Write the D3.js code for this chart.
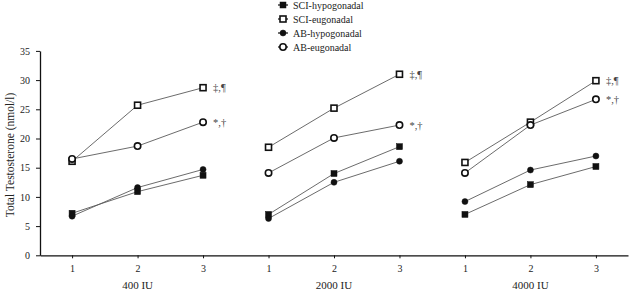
<!DOCTYPE html>
<html>
<head>
<meta charset="utf-8">
<script src="https://cdnjs.cloudflare.com/ajax/libs/d3/7.8.5/d3.min.js"></script>
<style>
  body { margin: 0; background: #fff; }
  text { font-family: "Liberation Serif", "DejaVu Serif", serif; fill: #222; }
</style>
</head>
<body>
<div id="chart"></div>
<script>
// doses and visits on the x axis
const doses = ["400 IU", "2000 IU", "4000 IU"];
const visits = ["1", "2", "3"];
const yTicks = [0, 5, 10, 15, 20, 25, 30, 35];

// values per dose, 3 visits each (nmol/l)
const sciHypo = [[7.2, 10.9, 13.7], [7.0, 14.0, 18.6], [7.0, 12.1, 15.2]];
const sciEu   = [[16.1, 25.7, 28.7], [18.5, 25.2, 31.0], [15.9, 22.8, 29.9]];
const abHypo  = [[6.7, 11.6, 14.7], [6.3, 12.5, 16.1], [9.2, 14.6, 17.0]];
const abEu    = [[16.5, 18.7, 22.8], [14.1, 20.1, 22.3], [14.1, 22.3, 26.7]];

const seriesNames = ["SCI-hypogonadal", "SCI-eugonadal", "AB-hypogonadal", "AB-eugonadal"];
const annotations = { "SCI-eugonadal": "\u2021,\u00b6", "AB-eugonadal": "*,\u2020" };

window.onload = function () {
  const W = 631, H = 290;
  const svg = d3.select("#chart").append("svg")
    .attr("width", W).attr("height", H);

  const keys = [];
  doses.forEach((d, i) => visits.forEach(v => keys.push(i + "-" + v)));

  const x = d3.scalePoint().domain(keys).range([40, 628]).padding(0.49);
  const y = d3.scaleLinear().domain([0, 35]).range([255.3, 50.9]);

  const series = [
    { name: seriesNames[0], vals: sciHypo, shape: "square", filled: true },
    { name: seriesNames[1], vals: sciEu, shape: "square", filled: false },
    { name: seriesNames[2], vals: abHypo, shape: "circle", filled: true },
    { name: seriesNames[3], vals: abEu, shape: "circle", filled: false }
  ];

  // axes
  const yAxis = svg.append("g")
    .attr("transform", "translate(40,0)")
    .call(d3.axisLeft(y).tickValues(yTicks).tickSize(4).tickSizeOuter(0));
  const xAxis = svg.append("g")
    .attr("transform", "translate(0,255.3)")
    .call(d3.axisBottom(x).tickSize(3).tickSizeOuter(0)
      .tickFormat(k => k.split("-")[1]));
  [yAxis, xAxis].forEach(a => {
    a.select(".domain").attr("stroke", "#111").attr("stroke-width", 1.3);
    a.selectAll(".tick line").attr("stroke", "#111");
    a.selectAll("text").style("font-family", "Liberation Serif, serif")
      .attr("font-size", 10).attr("fill", "#222");
  });
  yAxis.selectAll("text").attr("x", -10);
  xAxis.selectAll("text").attr("y", 10);

  // dose labels under middle tick
  doses.forEach((d, i) => {
    svg.append("text")
      .attr("x", x(i + "-2")).attr("y", 289)
      .attr("text-anchor", "middle").attr("font-size", 11)
      .text(d);
  });

  svg.append("text")
    .attr("transform", "translate(14,155) rotate(-90)")
    .attr("text-anchor", "middle").attr("font-size", 11.5)
    .text("Total Testosterone (nmol/l)");

  const line = d3.line().x(d => d[0]).y(d => d[1]);

  function marker(g, s, cx, cy) {
    if (s.shape === "square") {
      g.append("rect")
        .attr("x", cx - 3).attr("y", cy - 3).attr("width", 6).attr("height", 6)
        .attr("fill", s.filled ? "#111" : "#fff")
        .attr("stroke", "#111").attr("stroke-width", s.filled ? 0.5 : 1.6);
    } else {
      g.append("circle")
        .attr("cx", cx).attr("cy", cy).attr("r", s.filled ? 3 : 3.2)
        .attr("fill", s.filled ? "#111" : "#fff")
        .attr("stroke", "#111").attr("stroke-width", s.filled ? 0.5 : 1.6);
    }
  }

  // lines first, then markers on top
  series.forEach(s => {
    s.vals.forEach((vals, di) => {
      const pts = vals.map((v, vi) => [x(di + "-" + visits[vi]), y(v)]);
      svg.append("path").attr("d", line(pts))
        .attr("fill", "none").attr("stroke", "#5a5a5a").attr("stroke-width", 0.9);
    });
  });
  series.forEach(s => {
    const g = svg.append("g");
    s.vals.forEach((vals, di) => {
      vals.forEach((v, vi) => marker(g, s, x(di + "-" + visits[vi]), y(v)));
      const ann = annotations[s.name];
      if (ann) {
        svg.append("text")
          .attr("x", x(di + "-3") + 10).attr("y", y(vals[2]) + 3.5)
          .attr("font-size", 10.5).style("fill", "#444")
          .text(ann);
      }
    });
  });

  // legend
  const legY = [5, 19, 33, 47];
  series.forEach((s, i) => {
    const g = svg.append("g");
    g.append("line").attr("x1", 278).attr("x2", 288)
      .attr("y1", legY[i]).attr("y2", legY[i])
      .attr("stroke", "#111").attr("stroke-width", 1.2);
    marker(g, s, 283, legY[i]);
    g.append("text").attr("x", 293).attr("y", legY[i] + 3.5)
      .attr("font-size", 10).text(s.name);
  });
};
</script>
</body>
</html>
